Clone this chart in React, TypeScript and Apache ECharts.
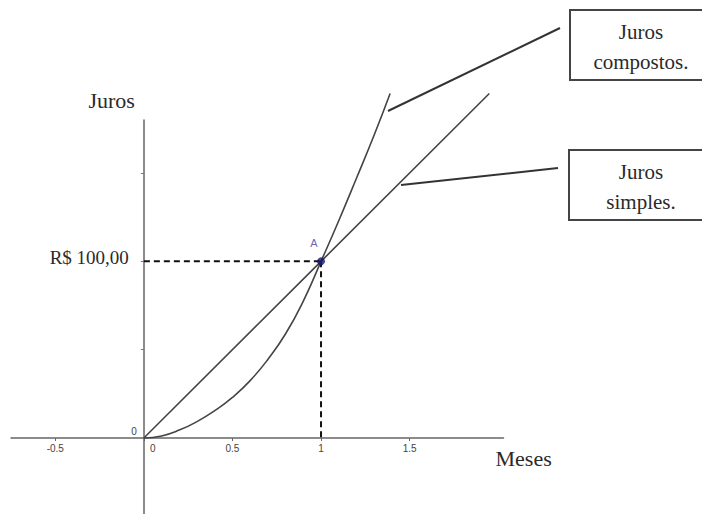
import React, { useEffect, useRef } from "react";
import * as echarts from "echarts";

const xTickValues = [-0.5, 0, 0.5, 1, 1.5];
const yTickValues = [50, 100, 150];
const yLabelValues = [0, 100];
const compoundX = [0, 0.1, 0.2, 0.3, 0.4, 0.5, 0.6, 0.7, 0.8, 0.9, 1.0, 1.1, 1.2, 1.3, 1.39];
const compoundY = [0, 1.2, 4.5, 9.3, 15.5, 23, 32.5, 44.5, 59, 77.5, 100, 123, 147, 171.5, 195];
const simpleX = [0, 1, 1.95];
const simpleY = [0, 100, 195];
const pointA = [1, 100];
const pointALabel = "A";
const compoundLabel = "Juros\ncompostos.";
const simpleLabel = "Juros\nsimples.";

const SERIF = "'Liberation Serif', 'Times New Roman', serif";
const SANS = "'Liberation Sans', Arial, sans-serif";

const X_MIN = -0.75;
const X_MAX = 2.03;
const Y_MIN = -43;
const Y_MAX = 180;
const GRID_LEFT = 11;
const GRID_RIGHT = 198.5;
const GRID_TOP = 120;
const GRID_BOTTOM = 0;
const W = 702;
const H = 514;

export default function App() {
  const ref = useRef<HTMLDivElement>(null);
  useEffect(() => {
    if (!ref.current) return;
    const chart = echarts.init(ref.current, undefined, { renderer: "svg" });
    const compound = compoundX.map((x, i) => [x, compoundY[i]]);
    const simple = simpleX.map((x, i) => [x, simpleY[i]]);
    const gw = W - GRID_LEFT - GRID_RIGHT;
    const gh = H - GRID_TOP - GRID_BOTTOM;
    const yAxisOffset = -((0 - X_MIN) / (X_MAX - X_MIN)) * gw;
    const xAxisOffset = -((0 - Y_MIN) / (Y_MAX - Y_MIN)) * gh;
    chart.setOption({
      animation: false,
      backgroundColor: "#ffffff",
      grid: {
        left: GRID_LEFT,
        right: GRID_RIGHT,
        top: GRID_TOP,
        bottom: GRID_BOTTOM,
        containLabel: false,
        outerBoundsMode: "none",
      },
      xAxis: {
        type: "value",
        position: "bottom",
        offset: xAxisOffset,
        min: X_MIN,
        max: X_MAX,
        name: "Meses",
        nameLocation: "end",
        nameGap: -8,
        nameTextStyle: {
          fontFamily: SERIF,
          fontSize: 22,
          color: "#2a2a2a",
          align: "left",
          verticalAlign: "top",
          padding: [9, 0, 0, 0],
        },
        axisLine: { show: true, onZero: false, lineStyle: { color: "#666", width: 1.5 } },
        axisTick: { show: true, length: 3, customValues: xTickValues, lineStyle: { color: "#666" } },
        axisLabel: {
          customValues: xTickValues,
          margin: 5,
          fontFamily: SANS,
          fontSize: 10,
          color: "#444",
          formatter: (v: number) => (v === 0 ? "{z|0}" : String(v)),
          rich: { z: { fontFamily: SANS, fontSize: 10, color: "#444", padding: [0, 0, 0, 18] } },
        },
        splitLine: { show: false },
      },
      yAxis: {
        type: "value",
        position: "left",
        offset: yAxisOffset,
        min: Y_MIN,
        max: Y_MAX,
        name: "Juros",
        nameLocation: "end",
        nameGap: 9,
        nameTextStyle: {
          fontFamily: SERIF,
          fontSize: 22,
          color: "#2a2a2a",
          align: "right",
          verticalAlign: "bottom",
          padding: [0, 9, 0, 0],
        },
        axisLine: { show: true, onZero: false, lineStyle: { color: "#666", width: 1.5 } },
        axisTick: { show: true, length: 3, customValues: yTickValues, lineStyle: { color: "#777" } },
        axisLabel: {
          customValues: yLabelValues,
          margin: 7,
          formatter: (v: number) => (v === 100 ? "{big|R$ 100,00}" : "{small|0}"),
          rich: {
            big: { fontFamily: SERIF, fontSize: 19, color: "#2a2a2a", padding: [0, 8, 8, 0] },
            small: { fontFamily: SANS, fontSize: 10, color: "#444", padding: [0, 0, 14, 0] },
          },
        },
        splitLine: { show: false },
      },
      series: [
        {
          type: "line",
          data: [[0, pointA[1]], pointA],
          symbol: "none",
          lineStyle: { color: "#111", width: 2, type: [6, 4] },
          z: 3,
        },
        {
          type: "line",
          data: [pointA, [pointA[0], 0]],
          symbol: "none",
          lineStyle: { color: "#111", width: 2, type: [6, 4] },
          z: 3,
        },
        {
          type: "line",
          data: compound,
          smooth: 0.5,
          symbol: "none",
          clip: false,
          lineStyle: { color: "#444", width: 1.6 },
          z: 4,
        },
        {
          type: "line",
          data: simple,
          symbol: "none",
          clip: false,
          lineStyle: { color: "#444", width: 1.6 },
          z: 4,
        },
        {
          type: "scatter",
          data: [pointA],
          symbolSize: 8,
          itemStyle: { color: "#14146e" },
          label: {
            show: true,
            formatter: pointALabel,
            position: "top",
            offset: [-7, -4],
            fontFamily: SANS,
            fontSize: 11,
            color: "#3c3ca8",
          },
          z: 6,
        },
      ],
      graphic: [
        {
          type: "line",
          shape: { x1: 560, y1: 28, x2: 388, y2: 111 },
          style: { stroke: "#333", lineWidth: 2 },
        },
        {
          type: "line",
          shape: { x1: 558, y1: 168, x2: 401, y2: 185 },
          style: { stroke: "#333", lineWidth: 2 },
        },
        {
          type: "rect",
          shape: { x: 570, y: 10, width: 150, height: 70 },
          style: { fill: "#fff", stroke: "#444", lineWidth: 2 },
        },
        {
          type: "text",
          x: 641,
          y: 47,
          style: {
            text: compoundLabel,
            fontFamily: SERIF,
            fontSize: 21,
            lineHeight: 30,
            fill: "#2a2a2a",
            align: "center",
            verticalAlign: "middle",
          },
        },
        {
          type: "rect",
          shape: { x: 569, y: 150, width: 150, height: 70 },
          style: { fill: "#fff", stroke: "#444", lineWidth: 2 },
        },
        {
          type: "text",
          x: 641,
          y: 187,
          style: {
            text: simpleLabel,
            fontFamily: SERIF,
            fontSize: 21,
            lineHeight: 30,
            fill: "#2a2a2a",
            align: "center",
            verticalAlign: "middle",
          },
        },
      ],
    });
    return () => chart.dispose();
  }, []);
  return (
    <div
      ref={ref}
      style={{ position: "fixed", left: 0, top: 0, width: W, height: H }}
    />
  );
}
